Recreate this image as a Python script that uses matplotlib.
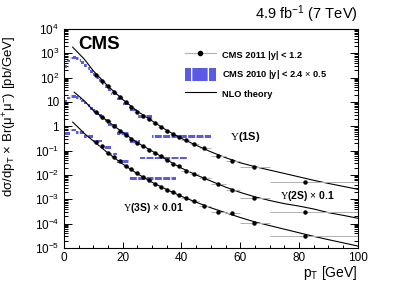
import numpy as np
import matplotlib
matplotlib.use("Agg")
import matplotlib.pyplot as plt
from matplotlib.lines import Line2D
from matplotlib.patches import Rectangle
from matplotlib.ticker import FixedLocator, LogLocator, MultipleLocator, NullFormatter

plt.rcParams['font.family'] = ['Liberation Sans', 'DejaVu Sans']
plt.rcParams['mathtext.fontset'] = 'custom'
plt.rcParams['mathtext.rm'] = 'Liberation Serif'
plt.rcParams['mathtext.sf'] = 'Liberation Sans'
plt.rcParams['mathtext.it'] = 'Liberation Sans:italic'
plt.rcParams['mathtext.bf'] = 'Liberation Sans:bold'
plt.rcParams['hatch.linewidth'] = 1.0

# ---- CMS 2011 |y|<1.2 data ----
bin_lo = [10, 12, 14, 16, 18, 20, 22, 24, 26, 28, 30, 32, 34, 36, 38, 40, 43, 46, 50, 55, 60, 70]
bin_hi = [12, 14, 16, 18, 20, 22, 24, 26, 28, 30, 32, 34, 36, 38, 40, 43, 46, 50, 55, 60, 70, 100]
pt_mean = [11, 13, 15, 17, 19, 21, 23, 25, 27, 29, 31, 33, 35, 37, 39, 41.4, 44.4, 47.8, 52.3, 57.3, 64.5, 82]
y1s_2011 = [129, 72, 43, 26, 15.5, 9.8, 5.9, 3.9, 2.6, 1.9, 1.32, 0.91, 0.66, 0.48, 0.36,
            0.26, 0.178, 0.126, 0.062, 0.037, 0.022, 0.005]
y2s_2011 = [4.0, 2.5, 1.58, 1.02, 0.66, 0.44, 0.30, 0.204, 0.148, 0.110, 0.079, 0.0575, 0.0417,
            0.0295, 0.0224, 0.0151, 0.0112, 0.00724, 0.00417, 0.0024, 0.0011, 0.000295]
y3s_2011 = [0.224, 0.151, 0.083, 0.0525, 0.038, 0.024, 0.0178, 0.0117, 0.0079, 0.006, 0.00427,
            0.00331, 0.00251, 0.00191, 0.00148, 0.0011, 0.00083, 0.000537, 0.000295, 0.000269,
            0.00011, 3.1e-5]

# ---- CMS 2010 |y|<2.4 x 0.5 ----
edges_1s_2010 = [0, 1, 2, 3, 4, 5, 6, 7, 8, 9, 10, 11, 12, 13, 14, 15, 16, 18, 20, 22, 25, 30, 50]
y1s_2010 = [282, 479, 631, 661, 603, 513, 407, 316, 240, 182, 135, 100, 74, 55, 42, 32, 21,
            13.2, 8.3, 4.7, 2.5, 0.37]
edges_2s_2010 = [0, 1, 2, 3, 4, 5, 6, 7, 8, 9, 10, 11, 12, 13, 14, 15, 18, 22, 26, 42]
y2s_2010 = [10.7, 14.5, 16.6, 16.6, 15.1, 13.2, 11.0, 8.9, 7.1, 5.5, 4.4, 3.4, 2.7, 2.1, 1.74,
            1.12, 0.51, 0.234, 0.049]
edges_3s_2010 = [0, 2, 4, 7, 10, 13, 16, 18, 22, 38]
y3s_2010 = [0.50, 0.71, 0.56, 0.37, 0.25, 0.135, 0.072, 0.035, 0.0072]

# ---- NLO theory ----
pt_nlo_1s = [3, 5, 7, 10, 15, 20, 25, 30, 35, 40, 45, 50, 55, 60, 65, 70, 75, 80, 85, 90, 95, 100]
nlo_1s = [1778, 1000, 562, 191, 44.7, 12.6, 4.17, 1.66, 0.676, 0.316, 0.166, 0.0891, 0.0513,
          0.0316, 0.0219, 0.0158, 0.0115, 0.0083, 0.0060, 0.00447, 0.00339, 0.00257]
pt_nlo_2s = [3.5, 5, 7, 10, 15, 20, 25, 30, 35, 40, 45, 50, 55, 60, 65, 70, 75, 80, 85, 90, 95, 100]
nlo_2s = [25.1, 17.8, 11.0, 4.47, 1.58, 0.562, 0.209, 0.0955, 0.0417, 0.0191, 0.01, 0.00562,
          0.00316, 0.00191, 0.00126, 0.000891, 0.000661, 0.000525, 0.000398, 0.000282,
          0.000219, 0.000166]
pt_nlo_3s = [3, 5, 7, 10, 15, 20, 25, 30, 35, 40, 45, 50, 55, 60, 65, 70, 75, 80, 85, 90, 95, 100]
nlo_3s = [1.48, 0.87, 0.5, 0.251, 0.0794, 0.0282, 0.0112, 0.00501, 0.00251, 0.00132, 0.000759,
          0.000447, 0.000282, 0.000178, 0.000117, 8.3e-5, 5.9e-5, 4.2e-5, 3.0e-5, 2.19e-5,
          1.62e-5, 1.2e-5]

ytick_vals = [1e-5, 1e-4, 1e-3, 1e-2, 1e-1, 1, 10, 1e2, 1e3, 1e4]
ytick_labels = [r'$\mathsf{10^{-5}}$', r'$\mathsf{10^{-4}}$', r'$\mathsf{10^{-3}}$',
                r'$\mathsf{10^{-2}}$', r'$\mathsf{10^{-1}}$', '1', '10',
                r'$\mathsf{10^{2}}$', r'$\mathsf{10^{3}}$', r'$\mathsf{10^{4}}$']

BLUE = '#5a5ae6'
GRAY = '#b0b0b0'

fig = plt.figure(figsize=(3.99, 2.86), dpi=100)
ax = fig.add_axes([0.160, 0.133, 0.737, 0.766])
ax.set_yscale('log')
ax.set_xlim(0, 100)
ax.set_ylim(1e-5, 1e4)

# 2010 bars
for edges, vals in [(edges_1s_2010, y1s_2010), (edges_2s_2010, y2s_2010), (edges_3s_2010, y3s_2010)]:
    e = np.array(edges, dtype=float)
    v = np.array(vals)
    ax.bar(e[:-1], v * 1.13 - v / 1.13, bottom=v / 1.13, width=np.diff(e), align='edge',
           color=BLUE, edgecolor='white', linewidth=0, hatch='||', zorder=2)

# NLO curves
for px, py in [(pt_nlo_1s, nlo_1s), (pt_nlo_2s, nlo_2s), (pt_nlo_3s, nlo_3s)]:
    ax.plot(px, py, color='black', lw=0.8, zorder=3)

# 2011 points
lo = np.array(bin_lo); hi = np.array(bin_hi); pm = np.array(pt_mean)
xerr = [pm - lo, hi - pm]
for vals in [y1s_2011, y2s_2011, y3s_2011]:
    ax.errorbar(pm, vals, xerr=xerr, fmt='o', color='black', ms=2.2, ecolor=GRAY,
                elinewidth=0.7, capsize=0, zorder=4)

# ticks
ax.yaxis.set_major_locator(FixedLocator(ytick_vals))
ax.set_yticklabels(ytick_labels)
ax.yaxis.set_minor_locator(LogLocator(base=10, subs=np.arange(2, 10), numticks=100))
ax.yaxis.set_minor_formatter(NullFormatter())
ax.xaxis.set_major_locator(MultipleLocator(20))
ax.xaxis.set_minor_locator(MultipleLocator(5))
ax.tick_params(axis='both', which='both', direction='in', labelsize=8.5, width=0.7)
ax.tick_params(axis='y', which='major', length=6, right=True)
ax.tick_params(axis='y', which='minor', length=3, right=True)
ax.tick_params(axis='x', which='major', length=4, pad=3)
ax.tick_params(axis='x', which='minor', length=2.2)
for s in ax.spines.values():
    s.set_linewidth(0.8)

# texts
ax.text(0.048, 0.927, 'CMS', transform=ax.transAxes, fontsize=13.5, fontweight='bold',
        va='center', ha='left')
fig.text(0.897, 0.951, r'4.9 fb$^{\mathsf{-1}}$ (7 TeV)', ha='right', va='center', fontsize=10.5)
fig.text(0.897, 0.045, r'p$_{\mathsf{T}}$ [GeV]', ha='right', va='center', fontsize=10)
fig.text(0.025, 0.875, r'd$\mathsf{\sigma}$/dp$_{\mathsf{T}}$ × Br($\mathsf{\mu^{+}\mu^{-}}$) [pb/GeV]',
         rotation=90, ha='center', va='top', fontsize=9.5)

ax.text(0.565, 0.507, r'$\mathrm{Υ}$(1S)', transform=ax.transAxes, fontsize=8,
        fontweight='bold', va='center', ha='left')
ax.text(0.735, 0.237, r'$\mathrm{Υ}$(2S) $\mathsf{×}$ 0.1', transform=ax.transAxes, fontsize=7.5,
        fontweight='bold', va='center', ha='left')
ax.text(0.20, 0.183, r'$\mathrm{Υ}$(3S) $\mathsf{×}$ 0.01', transform=ax.transAxes, fontsize=7.5,
        fontweight='bold', va='center', ha='left')

# legend
h_data = Line2D([], [], color=GRAY, lw=0.8, marker='o', markerfacecolor='black',
                markeredgecolor='black', ms=3.0)
h_2010 = Rectangle((0, 0), 1, 1, facecolor=BLUE, edgecolor='white', linewidth=0, hatch='|')
h_nlo = Line2D([], [], color='black', lw=0.8)
leg = ax.legend([h_data, h_2010, h_nlo],
                ['CMS 2011 |y| < 1.2', r'CMS 2010 |y| < 2.4 $\mathsf{×}$ 0.5', 'NLO theory'],
                loc='upper left', bbox_to_anchor=(0.412, 0.91), frameon=False,
                prop={'size': 6.7, 'weight': 'bold'}, handlelength=3.3, handleheight=1.8,
                handletextpad=0.65, labelspacing=0.65, borderpad=0, borderaxespad=0)

fig.savefig('out.png', dpi=100)
